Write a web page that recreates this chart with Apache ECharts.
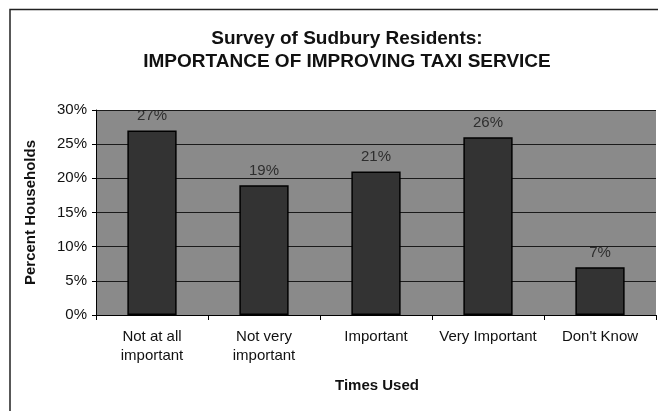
<!DOCTYPE html>
<html>
<head>
<meta charset="utf-8">
<script src="https://cdn.jsdelivr.net/npm/echarts@6/dist/echarts.min.js"></script>
<style>
html,body{margin:0;padding:0;background:#fff;}
#main{width:658px;height:411px;}
</style>
</head>
<body>
<div id="main"></div>
<script>
// categories and values (percent of households)
var categories = ['Not at all\nimportant', 'Not very\nimportant', 'Important', 'Very Important', "Don't Know"];
var percents = [27, 19, 21, 26, 7];
var yTicks = [0, 5, 10, 15, 20, 25, 30];

var chart = echarts.init(document.getElementById('main'));
var font = 'Liberation Sans, Arial, sans-serif';

var option = {
  backgroundColor: '#fff',
  animation: false,
  title: {
    text: 'Survey of Sudbury Residents:\nIMPORTANCE OF IMPROVING TAXI SERVICE',
    left: 342, top: 22, textAlign: 'center',
    textStyle: {fontFamily: font, fontSize: 19, fontWeight: 'bold', color: '#111', lineHeight: 23}
  },
  graphic: [
    {type: 'rect', shape: {x: 10, y: 9.5, width: 700, height: 500}, style: {fill: null, stroke: '#222', lineWidth: 1.5}, silent: true},
    {type: 'text', x: 377, y: 386, style: {text: 'Times Used', font: 'bold 15px ' + font, fill: '#111', textAlign: 'center', textVerticalAlign: 'middle'}}
  ],
  grid: {left: 96, right: 2, top: 110, bottom: 96, show: true, backgroundColor: '#8a8a8a', borderWidth: 0},
  xAxis: {
    type: 'category',
    data: categories,
    axisLine: {lineStyle: {color: '#000', width: 1}},
    axisTick: {show: true, length: 5, interval: 0, lineStyle: {color: '#000'}},
    axisLabel: {fontFamily: font, fontSize: 15, color: '#111', lineHeight: 19, margin: 12,
      interval: 0, hideOverlap: false}
  },
  yAxis: {
    type: 'value',
    min: 0, max: 30, interval: 5,
    name: 'Percent Households',
    nameLocation: 'middle',
    nameGap: 58,
    nameTextStyle: {fontFamily: font, fontSize: 15, fontWeight: 'bold', color: '#111'},
    axisLine: {show: true, lineStyle: {color: '#000'}},
    axisTick: {show: true, length: 4, lineStyle: {color: '#000'}},
    axisLabel: {fontFamily: font, fontSize: 15, color: '#111', margin: 9,
      formatter: function (v) { return yTicks.indexOf(v) >= 0 ? v + '%' : ''; }},
    splitLine: {show: true, lineStyle: {color: '#1a1a1a', width: 1}}
  },
  series: [{
    type: 'bar',
    data: percents,
    barWidth: '44%',
    itemStyle: {color: '#333333', borderColor: '#000', borderWidth: 1.5},
    label: {show: true, position: 'top', distance: 7, formatter: '{c}%',
      fontFamily: font, fontSize: 15, color: '#2e2e2e'}
  }]
};
chart.setOption(option);
</script>
</body>
</html>
